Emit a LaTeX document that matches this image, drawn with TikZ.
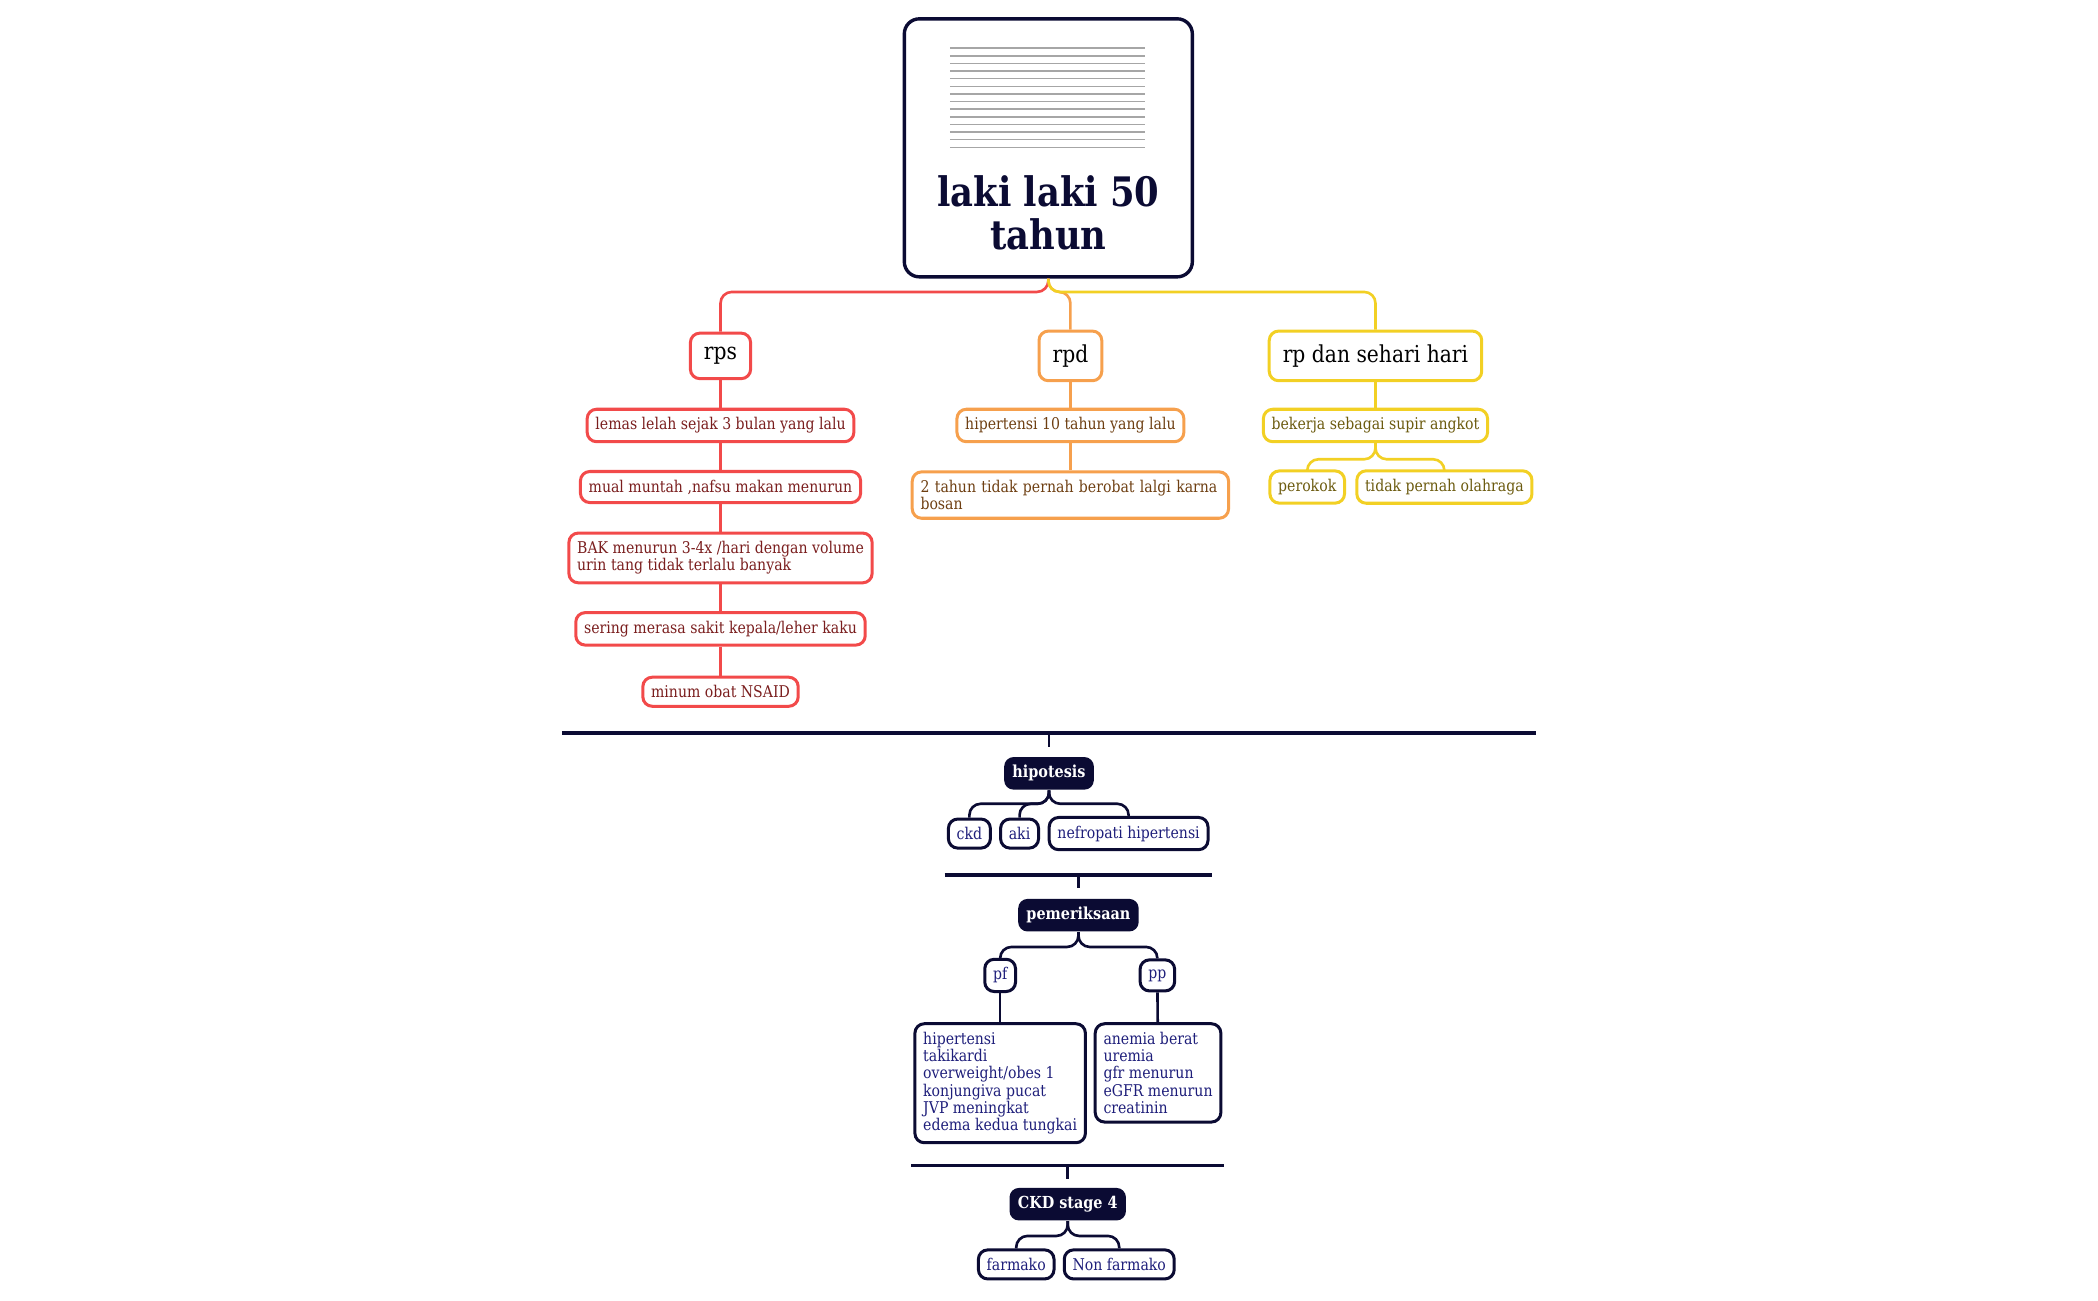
\documentclass[tikz,border=0pt]{standalone}
\usepackage{fontspec}
\setmainfont{DejaVu Serif}[FakeStretch=0.87]
\usepackage{xcolor}
\usetikzlibrary{positioning}
\definecolor{navy}{HTML}{0B0B33}
\definecolor{cred}{HTML}{F24A4A}
\definecolor{corange}{HTML}{F6A04D}
\definecolor{cyellow}{HTML}{F2D024}
\definecolor{tred}{HTML}{7A1E1E}
\definecolor{torange}{HTML}{6E3F12}
\definecolor{tyellow}{HTML}{6B5A0E}
\definecolor{tnavy}{HTML}{1E1E7A}
\begin{document}
\begin{tikzpicture}
        [x=0.0125cm, y=-0.0125cm,
            every node/.style={rectangle, align=left, rounded corners=2.5pt, inner sep=2.2pt, font=\fontsize{4.3}{4.6}\selectfont},
            redbox/.style={draw=cred, line width=0.8pt, text=tred},
            orangebox/.style={draw=corange, line width=0.8pt, text=torange},
            yellowbox/.style={draw=cyellow, line width=0.8pt, text=tyellow},
            navybox/.style={draw=navy, line width=0.8pt, text=tnavy},
            headbox/.style={fill=navy, text=white, font=\fontsize{4.4}{5}\selectfont\bfseries},
            topic/.style={line width=0.8pt, minimum height=0.425cm, inner sep=3.6pt, font=\fontsize{6.2}{6.6}\selectfont, text=black},
            link/.style={line width=0.7pt, rounded corners=3pt},
            sep/.style={navy, line width=1pt}
        ]
        \useasboundingbox (0,0) rectangle (1568,972);
        % central topic
        \node (root) [draw=navy, line width=0.9pt, rounded corners=4pt, minimum width=2.69cm, minimum height=2.41cm] at (783.5,110.5) {};
        \node (title) [align=center, text=navy, font=\fontsize{10.8}{11.6}\selectfont\bfseries] at (783.5,159) {laki laki 50\\ tahun};
        \foreach \i in {0,...,13}
            \draw[gray!70, line width=0.4pt] (710,36+5.7*\i) -- (856,36+5.7*\i);
        % main branches
        \node (rps) [redbox, topic] at (538.5,266) {rps};
        \node (rpd) [orangebox, topic] at (800,266) {rpd};
        \node (rph) [yellowbox, topic] at (1028,266) {rp dan sehari hari};
        \draw[link, cred] (root.south) -- ++(0,10) -| (rps.north);
        \draw[link, corange] (root.south) -- ++(0,10) -| (rpd.north);
        \draw[link, cyellow] (root.south) -- ++(0,10) -| (rph.north);
        % rps
        \node (lemas) [redbox] at (538.5,318) {lemas lelah sejak 3 bulan yang lalu};
        \node (mual) [redbox] at (538.5,364) {mual muntah ,nafsu makan menurun};
        \node (bak) [redbox] at (538.5,417) {BAK menurun 3-4x /hari dengan volume\\urin tang tidak terlalu banyak};
        \node (sering) [redbox] at (538.5,470) {sering merasa sakit kepala/leher kaku};
        \node (nsaid) [redbox] at (538.5,517) {minum obat NSAID};
        \draw[link, cred] (rps) -- (lemas);
        \draw[link, cred] (lemas) -- (mual);
        \draw[link, cred] (mual) -- (bak);
        \draw[link, cred] (bak) -- (sering);
        \draw[link, cred] (sering) -- (nsaid);
        % rpd
        \node (ht) [orangebox] at (800,318) {hipertensi 10 tahun yang lalu};
        \node (bosan) [orangebox, text width=2.8cm] at (800,370) {2 tahun tidak pernah berobat lalgi karna\\bosan};
        \draw[link, corange] (rpd) -- (ht);
        \draw[link, corange] (ht) -- (bosan);
        % rp dan sehari hari
        \node (supir) [yellowbox] at (1028,318) {bekerja sebagai supir angkot};
        \node (rokok) [yellowbox] at (977,364) {perokok};
        \node (olahraga) [yellowbox] at (1079.5,364) {tidak pernah olahraga};
        \draw[link, cyellow] (rph) -- (supir);
        \draw[link, cyellow] (supir.south) -- ++(0,12) -| (rokok.north);
        \draw[link, cyellow] (supir.south) -- ++(0,12) -| (olahraga.north);
        % hipotesis
        \coordinate (s1) at (784,548);
        \draw[sep] (420,548) -- (1148,548);
        \node (hipo) [headbox] at (784,578) {hipotesis};
        \draw[link, navy] (s1) -- ++(0,10);
        \node (ckd) [navybox] at (724.5,623) {ckd};
        \node (aki) [navybox] at (762,623) {aki};
        \node (nefro) [navybox] at (843.5,623) {nefropati hipertensi};
        \draw[link, navy] (hipo.south) -- ++(0,10) -| (ckd.north);
        \draw[link, navy] (hipo.south) -- ++(0,10) -| (aki.north);
        \draw[link, navy] (hipo.south) -- ++(0,10) -| (nefro.north);
        % pemeriksaan
        \coordinate (s2) at (806,654);
        \draw[sep] (706,654) -- (906,654);
        \draw[link, navy] (s2) -- ++(0,10);
        \node (periksa) [headbox] at (806,684) {pemeriksaan};
        \node (pf) [navybox, minimum height=0.29cm] at (747.5,729) {pf};
        \node (pp) [navybox, minimum height=0.29cm] at (865,729) {pp};
        \draw[link, navy] (periksa.south) -- ++(0,11) -| (pf.north);
        \draw[link, navy] (periksa.south) -- ++(0,11) -| (pp.north);
        \node (pflist) [navybox, anchor=north] at (747.5,764) {hipertensi\\takikardi\\overweight/obes 1\\konjungiva pucat\\JVP meningkat\\edema kedua tungkai};
        \node (pplist) [navybox, anchor=north] at (865.5,764) {anemia berat\\uremia\\gfr menurun\\eGFR menurun\\creatinin};
        \draw[link, navy] (pf) -- (pflist);
        \draw[link, navy] (pp) -- (pplist);
        % diagnosis
        \coordinate (s3) at (798,871);
        \draw[sep] (681,871) -- (915,871);
        \draw[link, navy] (s3) -- ++(0,10);
        \node (ckd4) [headbox] at (798,900) {CKD stage 4};
        \node (farmako) [navybox] at (759.5,945) {farmako};
        \node (nonfarmako) [navybox] at (836.5,945) {Non farmako};
        \draw[link, navy] (ckd4.south) -- ++(0,11) -| (farmako.north);
        \draw[link, navy] (ckd4.south) -- ++(0,11) -| (nonfarmako.north);
    \end{tikzpicture}
\end{document}
